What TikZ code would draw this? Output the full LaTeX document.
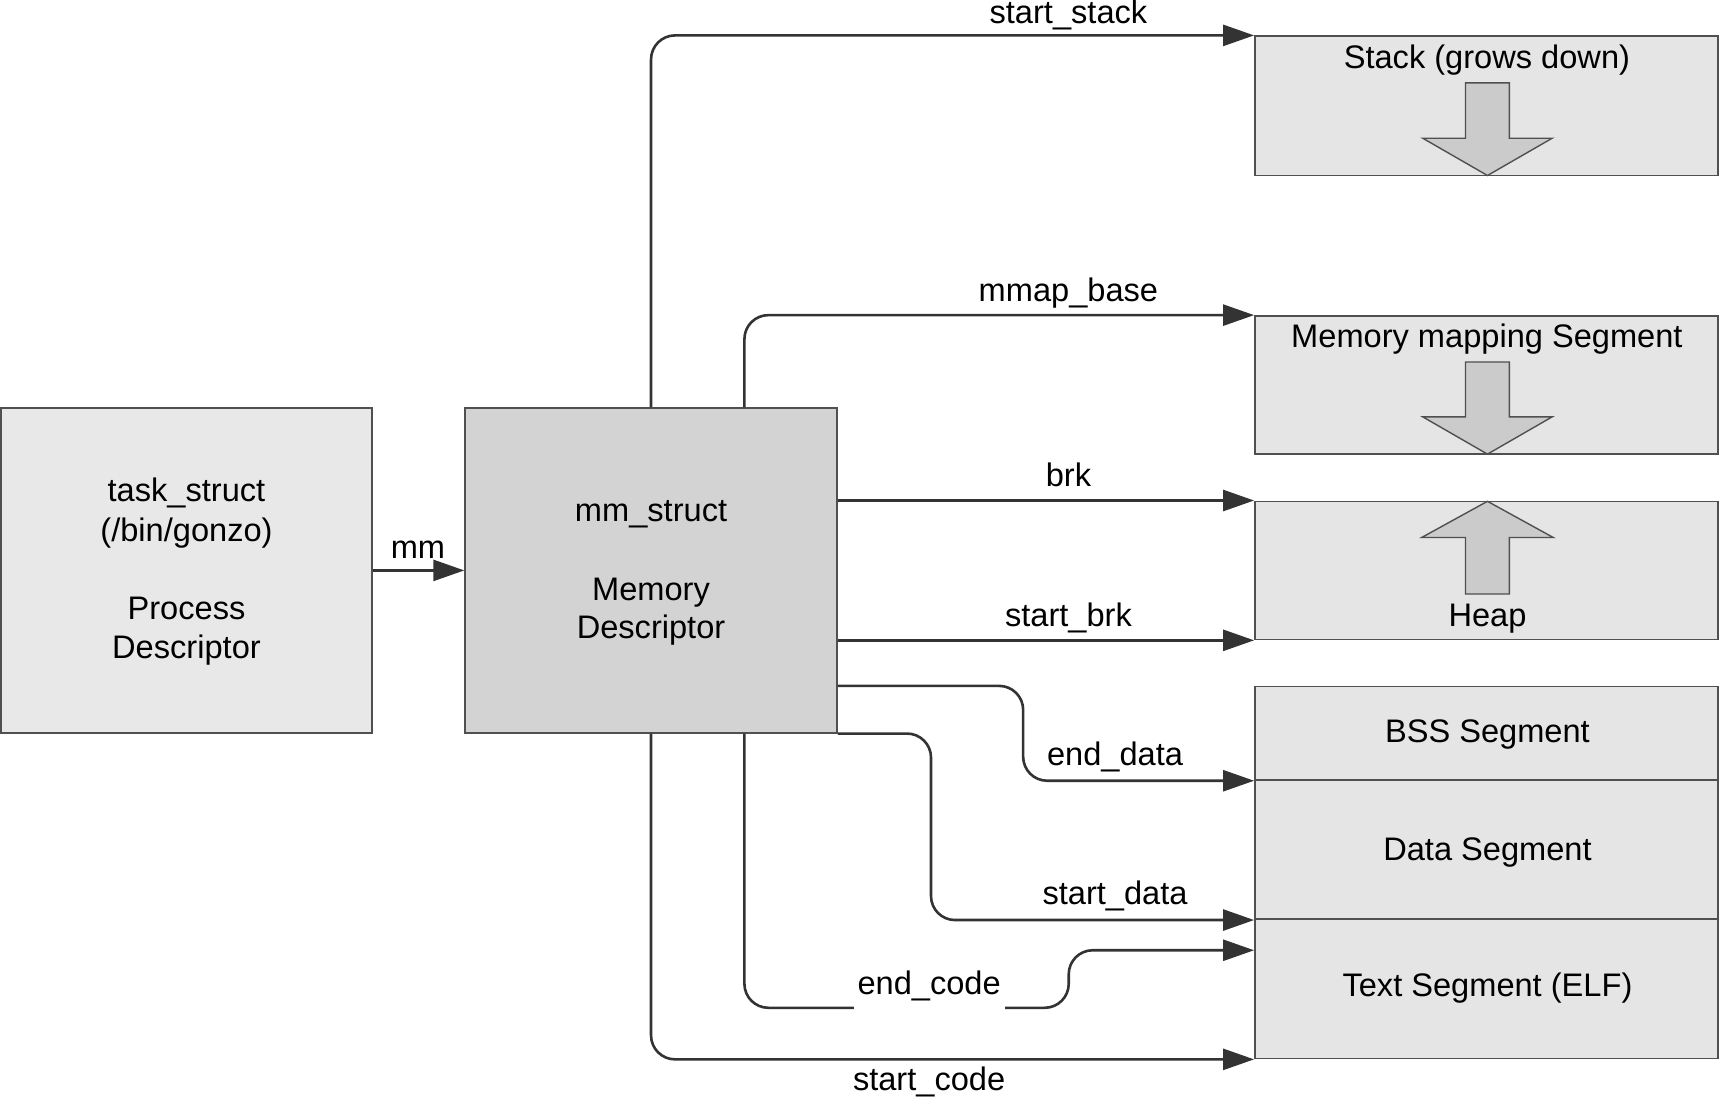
\documentclass[tikz,border=0pt]{standalone}
\usepackage{fontspec}
\setmainfont{Liberation Sans}
\usetikzlibrary{arrows.meta,calc,fit}
\definecolor{linec}{HTML}{333333}
\definecolor{boxline}{HTML}{505050}
\definecolor{taskfill}{HTML}{E8E8E8}
\definecolor{mmfill}{HTML}{D3D3D3}
\definecolor{segfill}{HTML}{E5E5E5}
\definecolor{blockfill}{HTML}{CBCBCB}
\begin{document}
\begin{tikzpicture}[x=0.5485pt,y=-0.5485pt,
  every node/.style={font=\fontsize{16.3pt}{20pt}\selectfont},
  box/.style={draw=boxline, line width=0.8pt, inner sep=0pt},
  conn/.style={draw=linec, line width=1.3pt, rounded corners=12pt, -{Triangle[length=15.5pt,width=10.5pt]}},
  lbl/.style={anchor=base, inner sep=0pt},
  blockarrow/.style={draw=boxline, line width=0.7pt, fill=blockfill, line join=miter}]
\useasboundingbox (0,0) rectangle (1568,1001);
% boxes
\node[box, fill=taskfill, fit={(0.8,372)(339,668)}] (task) {};
\node[box, fill=mmfill, fit={(424,372)(763,668)}] (mm) {};
\node[box, fill=segfill, fit={(1144,33)(1566,160)}] (stack) {};
\node[box, fill=segfill, fit={(1144,288)(1566,414)}] (mmap) {};
\node[box, fill=segfill, fit={(1144,457)(1566,583)}] (heap) {};
\node[box, fill=segfill, fit={(1144,626)(1566,711)}] (bss) {};
\node[box, fill=segfill, fit={(1144,711)(1566,838)}] (data) {};
\node[box, fill=segfill, fit={(1144,838)(1566,965)}] (textseg) {};
% box texts
\node[lbl] (t1) at (170,457.3) {task\_struct};
\node[lbl] (t2) at (170,493.8) {(/bin/gonzo)};
\node[lbl] (t3) at (170,564.6) {Process};
\node[lbl] (t4) at (170,600) {Descriptor};
\node[lbl] (m1) at (593.5,475.6) {mm\_struct};
\node[lbl] (m2) at (593.5,547.6) {Memory};
\node[lbl] (m3) at (593.5,582) {Descriptor};
\node[lbl] (tstack) at (1355.5,62) {Stack (grows down)};
\node[lbl] (tmmap) at (1355.5,316.6) {Memory mapping Segment};
\node[lbl] (theap) at (1356,571.3) {Heap};
\node[lbl] (tbss) at (1356,677) {BSS Segment};
\node[lbl] (tdata) at (1356,784) {Data Segment};
\node[lbl] (ttext) at (1356,908.6) {Text Segment (ELF)};
% block arrows
\draw[blockarrow] (1336,75.6) -- (1376,75.6) -- (1376,126) -- (1415,126) -- (1356,160) -- (1297,126) -- (1336,126) -- cycle;
\draw[blockarrow] (1336,330) -- (1376,330) -- (1376,380) -- (1415,380) -- (1356,414) -- (1297,380) -- (1336,380) -- cycle;
\draw[blockarrow] (1336,541.5) -- (1376,541.5) -- (1376,490) -- (1416,490) -- (1356,457) -- (1296,490) -- (1336,490) -- cycle;
% connectors
\coordinate (mmq) at ($(mm.north)!0.5!(mm.north east)$);
\coordinate (mmqs) at ($(mm.south)!0.5!(mm.south east)$);
\draw[conn] (task.east) -- (mm.west);
\draw[conn] (mm.north) |- (stack.north west);
\draw[conn] (mmq) |- (mmap.north west);
\draw[conn] (mm.east |- heap.north west) -- (heap.north west);
\draw[conn] (mm.east |- heap.south west) -- (heap.south west);
\draw[conn] (mm.east |- bss.north west) -- ++(169,0) |- (bss.south west);
\draw[conn] (mm.south east) -- ++(85,0) |- (data.south west);
\draw[conn] (mmqs) -- ++(0,250) -| ($(textseg.north west)+(-169,29)$) -- ($(textseg.north west)+(0,29)$);
\draw[conn] (mm.south) |- (textseg.south west);
% labels
\node[lbl] (lmm) at (381,509) {mm};
\node[lbl] (lss) at (974,21) {start\_stack};
\node[lbl] (lmb) at (974,274.5) {mmap\_base};
\node[lbl] (lbrk) at (974,443.7) {brk};
\node[lbl] (lsb) at (974,571) {start\_brk};
\node[lbl] (led) at (1016.5,698) {end\_data};
\node[lbl] (lsd) at (1016.5,825) {start\_data};
\node[lbl, fill=white, inner ysep=5pt, inner xsep=2pt] (lec) at (847,907) {end\_code};
\node[lbl] (lsc) at (847,994) {start\_code};
\end{tikzpicture}
\end{document}
